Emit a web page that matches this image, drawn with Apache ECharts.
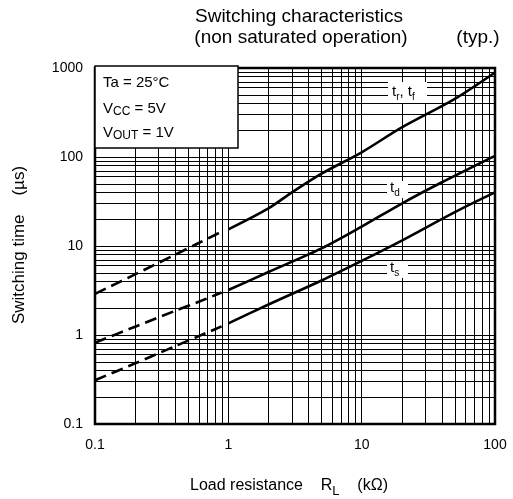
<!DOCTYPE html>
<html><head><meta charset="utf-8">
<script src="https://cdn.jsdelivr.net/npm/echarts@6/dist/echarts.min.js"></script>
<style>html,body{margin:0;padding:0;background:#fff}#c{width:513px;height:499px}</style>
</head><body><div id="c"></div>
<script>
// ---- data ----
const xTickLabels = ['0.1', '1', '10', '100'];
const yTickLabels = ['0.1', '1', '10', '100', '1000'];
const xDecades = [0.1, 1, 10];
const yDecades = [0.1, 1, 10, 100];
const minorMults = [2, 3, 4, 5, 6, 7, 8, 9];

// t_r, t_f
const trDashX = [0.1, 0.2, 0.4, 0.6, 0.89];
const trDashY = [2.9, 4.8, 8.0, 10.8, 14.5];
const trX = [1, 2, 3, 5, 10, 20, 50, 100];
const trY = [15.4, 26.5, 40, 65, 113, 215, 450, 890];
// t_d
const tdDashX = [0.1, 0.2, 0.4, 0.6, 0.89];
const tdDashY = [0.82, 1.24, 1.87, 2.36, 3.0];
const tdX = [1, 2, 5, 10, 20, 40, 100];
const tdY = [3.2, 5.1, 9.4, 16.5, 30, 52, 103];
// t_s
const tsDashX = [0.1, 0.2, 0.4, 0.6, 0.89];
const tsDashY = [0.31, 0.48, 0.75, 0.97, 1.25];
const tsX = [1, 2, 5, 10, 20, 50, 100];
const tsY = [1.35, 2.2, 4.1, 6.8, 11.5, 24, 40];

const FONT = 'Liberation Sans, Arial, Helvetica, sans-serif';
const zip = (xs, ys) => xs.map((x, i) => [x, ys[i]]);

const vLines = [];
xDecades.forEach(d => minorMults.forEach(m => vLines.push({ xAxis: d * m })));
const hLines = [];
yDecades.forEach(d => minorMults.forEach(m => hLines.push({ yAxis: d * m })));

const solidStyle = { color: '#000', width: 2.6, type: 'solid' };
const dashStyle = { color: '#000', width: 2.6, type: [12, 6] };

function curve(data, style) {
  return {
    type: 'line', data: data, showSymbol: false, symbol: 'none', smooth: 0.3,
    lineStyle: style, z: 5, silent: true
  };
}

const chart = echarts.init(document.getElementById('c'), null, { renderer: 'canvas' });
const fmt = v => String(+(+v).toPrecision(3));

chart.setOption({
  animation: false,
  backgroundColor: '#fff',
  grid: { left: 95, right: 18, top: 68, bottom: 75, show: true, borderColor: '#000', borderWidth: 2.5, backgroundColor: 'transparent', z: 6 },
  xAxis: {
    type: 'log', logBase: 10, min: 0.1, max: 100,
    axisLine: { show: false }, axisTick: { show: false },
    axisLabel: { fontSize: 14, color: '#000', fontFamily: FONT, margin: 14, formatter: v => { const s = fmt(v); return xTickLabels.includes(s) ? s : ''; } },
    splitLine: { show: true, lineStyle: { color: '#000', width: 1 } }
  },
  yAxis: {
    type: 'log', logBase: 10, min: 0.1, max: 1000,
    axisLine: { show: false }, axisTick: { show: false },
    axisLabel: { fontSize: 14, color: '#000', fontFamily: FONT, margin: 12, formatter: v => { const s = fmt(v); return yTickLabels.includes(s) ? s : ''; } },
    splitLine: { show: true, lineStyle: { color: '#000', width: 1 } }
  },
  series: [
    {
      type: 'line', data: [], z: 1, silent: true,
      markLine: {
        silent: true, symbol: ['none', 'none'], animation: false,
        label: { show: false },
        lineStyle: { color: '#000', width: 1, type: 'solid' },
        emphasis: { disabled: true },
        data: vLines.concat(hLines)
      }
    },
    curve(zip(trDashX, trDashY), dashStyle),
    curve(zip(trX, trY), solidStyle),
    curve(zip(tdDashX, tdDashY), dashStyle),
    curve(zip(tdX, tdY), solidStyle),
    curve(zip(tsDashX, tsDashY), dashStyle),
    curve(zip(tsX, tsY), solidStyle)
  ],
  graphic: [
    // title
    { type: 'text', z: 20, x: 299, y: 17, style: { text: 'Switching characteristics', font: '19px ' + FONT, fill: '#000', align: 'center', verticalAlign: 'middle', textAlign: 'center', textVerticalAlign: 'middle' } },
    { type: 'text', z: 20, x: 301, y: 38, style: { text: '(non saturated operation)', font: '19px ' + FONT, fill: '#000', align: 'center', verticalAlign: 'middle', textAlign: 'center', textVerticalAlign: 'middle' } },
    { type: 'text', z: 20, x: 478, y: 38, style: { text: '(typ.)', font: '19px ' + FONT, fill: '#000', align: 'center', verticalAlign: 'middle', textAlign: 'center', textVerticalAlign: 'middle' } },
    // axis names
    { type: 'text', z: 20, x: 19, y: 245, rotation: Math.PI / 2, style: { text: 'Switching time    (µs)', font: '17px ' + FONT, fill: '#000', align: 'center', verticalAlign: 'middle', textAlign: 'center', textVerticalAlign: 'middle' } },
    { type: 'text', z: 20, x: 289, y: 486, style: {
        text: '{m|Load resistance    R}{s|L}{m|    (kΩ)}', fill: '#000', align: 'center', verticalAlign: 'middle', textAlign: 'center', textVerticalAlign: 'middle',
        rich: { m: { fontSize: 16, fontFamily: FONT, lineHeight: 24, fill: '#000' }, s: { fontSize: 13, fontFamily: FONT, lineHeight: 12, verticalAlign: 'bottom', fill: '#000' } } } },
    // condition box
    { type: 'rect', z: 20, shape: { x: 95, y: 66, width: 143, height: 82 }, style: { fill: '#fff', stroke: '#000', lineWidth: 1.5 } },
    { type: 'text', z: 21, x: 103, y: 83, style: { text: 'Ta = 25°C', font: '15px ' + FONT, fill: '#000', align: 'left', verticalAlign: 'middle', textAlign: 'left', textVerticalAlign: 'middle' } },
    { type: 'text', z: 21, x: 103, y: 109, style: {
        text: '{m|V}{s|CC}{m| = 5V}', align: 'left', verticalAlign: 'middle', textAlign: 'left', textVerticalAlign: 'middle',
        rich: { m: { fontSize: 15, fontFamily: FONT, lineHeight: 18, fill: '#000' }, s: { fontSize: 12, fontFamily: FONT, lineHeight: 14, verticalAlign: 'bottom', fill: '#000' } } } },
    { type: 'text', z: 21, x: 103, y: 133, style: {
        text: '{m|V}{s|OUT}{m| = 1V}', align: 'left', verticalAlign: 'middle', textAlign: 'left', textVerticalAlign: 'middle',
        rich: { m: { fontSize: 15, fontFamily: FONT, lineHeight: 18, fill: '#000' }, s: { fontSize: 12, fontFamily: FONT, lineHeight: 14, verticalAlign: 'bottom', fill: '#000' } } } },
    // curve labels
    { type: 'rect', z: 20, shape: { x: 388, y: 82, width: 39, height: 21 }, style: { fill: '#fff', stroke: null } },
    { type: 'text', z: 21, x: 392, y: 92, style: {
        text: '{m|t}{s|r}{m|, t}{s|f}', align: 'left', verticalAlign: 'middle', textAlign: 'left', textVerticalAlign: 'middle',
        rich: { m: { fontSize: 15, fontFamily: FONT, lineHeight: 20, fill: '#000' }, s: { fontSize: 10, fontFamily: FONT, lineHeight: 12, verticalAlign: 'bottom', fill: '#000' } } } },
    { type: 'rect', z: 20, shape: { x: 387, y: 181, width: 21, height: 17 }, style: { fill: '#fff', stroke: null } },
    { type: 'text', z: 21, x: 390, y: 188, style: {
        text: '{m|t}{s|d}', align: 'left', verticalAlign: 'middle', textAlign: 'left', textVerticalAlign: 'middle',
        rich: { m: { fontSize: 15, fontFamily: FONT, lineHeight: 20, fill: '#000' }, s: { fontSize: 10, fontFamily: FONT, lineHeight: 12, verticalAlign: 'bottom', fill: '#000' } } } },
    { type: 'rect', z: 20, shape: { x: 387, y: 261, width: 21, height: 17 }, style: { fill: '#fff', stroke: null } },
    { type: 'text', z: 21, x: 390, y: 268, style: {
        text: '{m|t}{s|s}', align: 'left', verticalAlign: 'middle', textAlign: 'left', textVerticalAlign: 'middle',
        rich: { m: { fontSize: 15, fontFamily: FONT, lineHeight: 20, fill: '#000' }, s: { fontSize: 10, fontFamily: FONT, lineHeight: 12, verticalAlign: 'bottom', fill: '#000' } } } }
  ]
});
</script>
</body></html>
